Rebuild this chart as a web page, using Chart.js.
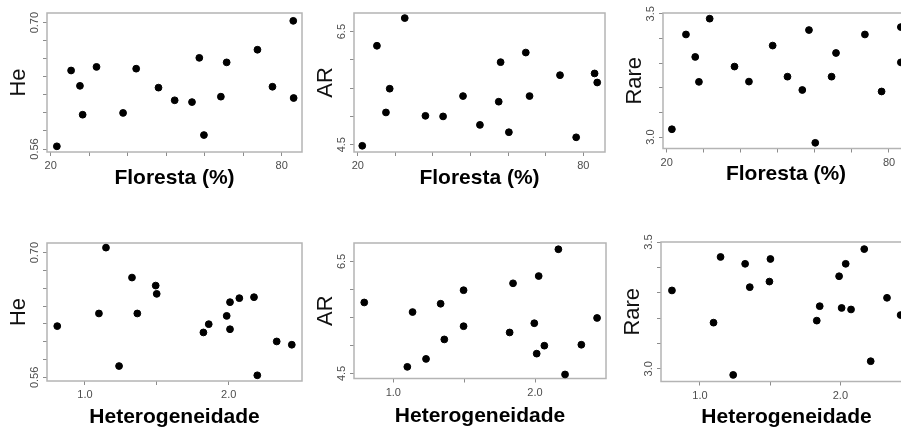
<!doctype html>
<html>
<head>
<meta charset="utf-8">
<title>Floresta / Heterogeneidade</title>
<script src="https://cdn.jsdelivr.net/npm/chart.js"></script>
<style>
    html, body { margin: 0; padding: 0; background: #fff; }
    body { width: 901px; height: 433px; overflow: hidden; position: relative; }
    canvas { position: absolute; }
</style>
</head>
<body>
<canvas id="p1"></canvas>
<canvas id="p2"></canvas>
<canvas id="p3"></canvas>
<canvas id="p4"></canvas>
<canvas id="p5"></canvas>
<canvas id="p6"></canvas>

<script>
    // values (one point per site)
    const floHeX = [21.6, 25.3, 27.6, 28.3, 31.9, 38.8, 42.2, 48.0, 52.2, 56.7, 58.6, 59.8, 64.2, 65.7, 73.7, 77.6, 83.0, 83.1];
    const floHeY = [0.563, 0.647, 0.630, 0.598, 0.651, 0.600, 0.649, 0.628, 0.614, 0.612, 0.661, 0.5755, 0.618, 0.656, 0.670, 0.629, 0.702, 0.6165];

    const floArX = [21.2, 25.1, 27.5, 28.5, 32.5, 38.0, 42.7, 48.0, 52.5, 57.5, 58.0, 60.2, 64.7, 65.7, 73.8, 78.1, 83.0, 83.7];
    const floArY = [4.48, 6.25, 5.07, 5.49, 6.74, 5.01, 5.00, 5.36, 4.85, 5.26, 5.96, 4.72, 6.13, 5.36, 5.73, 4.63, 5.76, 5.60];

    const floRareX = [21.4, 25.2, 27.7, 28.7, 31.6, 38.3, 42.2, 48.6, 52.6, 56.6, 58.4, 60.1, 64.5, 65.7, 73.5, 78.0, 83.2, 83.2];
    const floRareY = [3.032, 3.416, 3.325, 3.224, 3.48, 3.286, 3.225, 3.371, 3.245, 3.191, 3.434, 2.977, 3.245, 3.341, 3.416, 3.185, 3.446, 3.303];

    const hetHeX = [0.807, 1.097, 1.146, 1.237, 1.327, 1.364, 1.492, 1.499, 1.824, 1.861, 1.986, 2.009, 2.009, 2.074, 2.176, 2.199, 2.334, 2.439];
    const hetHeY = [0.6175, 0.6317, 0.7056, 0.5727, 0.672, 0.6317, 0.663, 0.6537, 0.6104, 0.6197, 0.629, 0.6444, 0.614, 0.6489, 0.650, 0.5623, 0.6003, 0.5966];

    const hetArX = [0.795, 1.099, 1.136, 1.231, 1.334, 1.36, 1.496, 1.496, 1.821, 1.845, 1.995, 2.012, 2.026, 2.066, 2.165, 2.212, 2.327, 2.438];
    const hetArY = [5.768, 4.618, 5.597, 4.76, 5.745, 5.108, 5.987, 5.344, 5.232, 6.11, 5.397, 4.854, 6.24, 4.996, 6.718, 4.482, 5.013, 5.491];

    const hetRareX = [0.801, 1.097, 1.147, 1.237, 1.322, 1.355, 1.495, 1.502, 1.832, 1.853, 1.991, 2.009, 2.038, 2.076, 2.17, 2.216, 2.332, 2.429];
    const hetRareY = [3.309, 3.182, 3.441, 2.976, 3.414, 3.322, 3.344, 3.433, 3.19, 3.247, 3.365, 3.24, 3.414, 3.234, 3.472, 3.03, 3.28, 3.212];

    // axis ticks, only the end ones get a label like in the original
    const forestTicks = [20, 30, 40, 50, 60, 70, 80];
    const forestLabels = ['20', '', '', '', '', '', '80'];
    const hetTicks = [1.0, 1.5, 2.0];
    const hetLabels = ['1.0', '', '2.0'];
    const heTicks = [0.56, 0.58, 0.60, 0.62, 0.64, 0.66, 0.68, 0.70];
    const heLabels = ['0.56', '', '', '', '', '', '', '0.70'];
    const arTicks = [4.5, 5.0, 5.5, 6.0, 6.5];
    const arLabels = ['4.5', '', '', '', '6.5'];
    const rareTicks = [3.0, 3.1, 3.2, 3.3, 3.4, 3.5];
    const rareLabels = ['3.0', '', '', '', '', '3.5'];

    const FONT = 'Arial, "Liberation Sans", sans-serif';
    const LEFT = 50;
    const PAD = 10;

    function framePlugin(yTicks, yLabels) {
        return {
            id: 'frame',
            beforeDatasetsDraw(chart) {
                const {ctx, chartArea: a} = chart;
                ctx.save();
                ctx.strokeStyle = '#b4b4b4';
                ctx.lineWidth = 1.5;
                ctx.strokeRect(a.left, a.top, a.right - a.left, a.bottom - a.top);
                ctx.restore();
            },
            afterDraw(chart) {
                // R style: y tick labels run along the axis
                const {ctx, chartArea: a, scales: {y}} = chart;
                ctx.save();
                ctx.fillStyle = '#4d4d4d';
                ctx.font = '11px ' + FONT;
                ctx.textAlign = 'center';
                ctx.textBaseline = 'middle';
                yTicks.forEach((v, i) => {
                    if (!yLabels[i]) return;
                    ctx.save();
                    ctx.translate(a.left - 12.5, y.getPixelForValue(v));
                    ctx.rotate(-Math.PI / 2);
                    ctx.fillText(yLabels[i], 0, 0);
                    ctx.restore();
                });
                ctx.restore();
            }
        };
    }

    function panel(p) {
        const cv = document.getElementById(p.id);
        const [l, t, r, b] = p.box;
        const below = p.titleGap + 18;
        cv.width = r - l + LEFT + PAD;
        cv.height = b - t + PAD + below;
        cv.style.left = (l - LEFT) + 'px';
        cv.style.top = (t - PAD) + 'px';

        new Chart(cv, {
            type: 'scatter',
            data: {
                datasets: [{
                    data: p.xs.map((x, i) => ({x: x, y: p.ys[i]})),
                    backgroundColor: '#000',
                    borderColor: '#000',
                    borderWidth: 1,
                    pointRadius: 3.4,
                    pointHoverRadius: 3.4,
                    clip: false
                }]
            },
            options: {
                responsive: false,
                animation: false,
                events: [],
                layout: { padding: { top: PAD, right: PAD, left: 0, bottom: 0 } },
                plugins: { legend: { display: false }, tooltip: { enabled: false } },
                scales: {
                    x: {
                        type: 'linear',
                        min: p.xr[0],
                        max: p.xr[1],
                        afterBuildTicks: s => { s.ticks = p.xTicks.map(v => ({value: v})); },
                        afterFit: s => { s.height = below; },
                        border: { display: false },
                        grid: { drawOnChartArea: false, drawTicks: true, tickLength: 4, color: '#8c8c8c', lineWidth: 1 },
                        ticks: {
                            autoSkip: false,
                            maxRotation: 0,
                            padding: 3.5,
                            color: '#4d4d4d',
                            font: { family: FONT, size: 11 },
                            callback: (v, i) => p.xLabels[i]
                        },
                        title: {
                            display: true,
                            text: p.xTitle,
                            color: '#000',
                            font: { family: FONT, size: 21, weight: 'bold', lineHeight: 1 },
                            padding: { top: 0, bottom: below - p.titleGap - 10.5 }
                        }
                    },
                    y: {
                        type: 'linear',
                        min: p.yr[0],
                        max: p.yr[1],
                        afterBuildTicks: s => { s.ticks = p.yTicks.map(v => ({value: v})); },
                        afterFit: s => { s.width = LEFT; },
                        border: { display: false },
                        grid: { drawOnChartArea: false, drawTicks: true, tickLength: 4, color: '#8c8c8c', lineWidth: 1 },
                        ticks: { display: false },
                        title: {
                            display: true,
                            text: p.yTitle,
                            color: '#111',
                            font: { family: FONT, size: 22, lineHeight: 1 },
                            padding: { top: LEFT - 28 - 11, bottom: 0 }
                        }
                    }
                }
            },
            plugins: [framePlugin(p.yTicks, p.yLabels)]
        });
    }

    panel({ id: 'p1', box: [47, 13, 302, 152], xr: [19.04, 85.27], yr: [0.5567, 0.7107],
        xs: floHeX, ys: floHeY, xTicks: forestTicks, xLabels: forestLabels, yTicks: heTicks, yLabels: heLabels,
        xTitle: 'Floresta (%)', yTitle: 'He', titleGap: 26 });
    panel({ id: 'p2', box: [354, 13, 605, 152], xr: [19.0, 85.77], yr: [4.37, 6.83],
        xs: floArX, ys: floArY, xTicks: forestTicks, xLabels: forestLabels, yTicks: arTicks, yLabels: arLabels,
        xTitle: 'Floresta (%)', yTitle: 'AR', titleGap: 26 });
    panel({ id: 'p3', box: [663, 13, 909, 149], xr: [19.0, 85.4], yr: [2.954, 3.503],
        xs: floRareX, ys: floRareY, xTicks: forestTicks, xLabels: forestLabels, yTicks: rareTicks, yLabels: rareLabels,
        xTitle: 'Floresta (%)', yTitle: 'Rare', titleGap: 25.5 });
    panel({ id: 'p4', box: [47, 243, 302, 381], xr: [0.7356, 2.51], yr: [0.5559, 0.7108],
        xs: hetHeX, ys: hetHeY, xTicks: hetTicks, xLabels: hetLabels, yTicks: heTicks, yLabels: heLabels,
        xTitle: 'Heterogeneidade', yTitle: 'He', titleGap: 36 });
    panel({ id: 'p5', box: [354, 243, 606, 379], xr: [0.7227, 2.501], yr: [4.41, 6.83],
        xs: hetArX, ys: hetArY, xTicks: hetTicks, xLabels: hetLabels, yTicks: arTicks, yLabels: arLabels,
        xTitle: 'Heterogeneidade', yTitle: 'AR', titleGap: 37.5 });
    panel({ id: 'p6', box: [661, 242, 912, 382], xr: [0.723, 2.51], yr: [2.95, 3.5],
        xs: hetRareX, ys: hetRareY, xTicks: hetTicks, xLabels: hetLabels, yTicks: rareTicks, yLabels: rareLabels,
        xTitle: 'Heterogeneidade', yTitle: 'Rare', titleGap: 35.5 });
</script>
</body>
</html>
